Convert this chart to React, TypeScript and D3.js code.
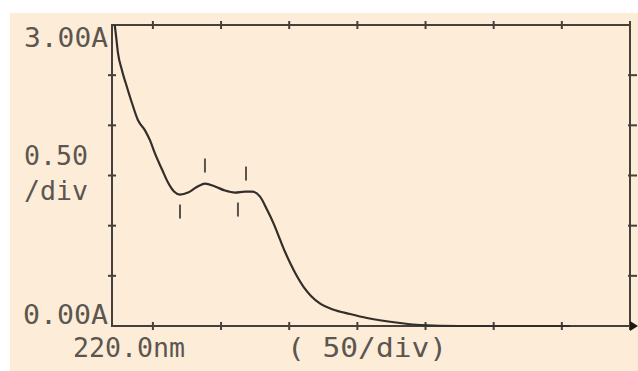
import * as d3 from "d3";

// wavelength (nm) and absorbance (A)
const wavelength = [222, 222.9, 224.4, 227.3, 231, 234.7, 239.1, 244.2, 247.9, 251.5, 256.7, 261.1, 265.5, 269.9, 275.8, 281.6, 288.2, 295.6, 302.9, 310.2, 317.6, 322.7, 328.6, 333.7, 338.9, 343.3, 346.9, 350.6, 355.5, 360.5, 366, 373, 382.1, 394.6, 407.1, 431.3, 446, 475, 556];
const absorbance = [3.0, 2.9, 2.72, 2.55, 2.38, 2.22, 2.05, 1.95, 1.85, 1.72, 1.56, 1.43, 1.34, 1.31, 1.33, 1.38, 1.42, 1.39, 1.35, 1.33, 1.34, 1.34, 1.29, 1.16, 1.01, 0.86, 0.74, 0.63, 0.5, 0.39, 0.3, 0.22, 0.165, 0.12, 0.08, 0.03, 0.01, 0, 0];

// peak / valley markers
const markerNm = [269.9, 288.2, 312.4, 318.3];
const markerA = [1.31, 1.42, 1.33, 1.34];
const markerSide = ["valley", "peak", "valley", "peak"];

const xTicks = [250, 300, 350, 400, 450, 500, 550, 600];
const yTicks = [0.5, 1.0, 1.5, 2.0, 2.5];

const W = 638;
const H = 371;
const ink = "#46403b";
const textInk = "#5b5650";

export default function App() {
  const x = d3.scaleLinear().domain([220, 600]).range([112, 630]);
  const y = d3.scaleLinear().domain([0, 3]).range([326, 25]);

  const pts: [number, number][] = wavelength.map((w, i) => [w, absorbance[i]]);
  const line = d3
    .line<[number, number]>()
    .x((d) => x(d[0]))
    .y((d) => y(d[1]))
    .curve(d3.curveMonotoneX);

  const x0 = x(220), x1 = x(600), yTop = y(3), yBot = y(0);
  const font = "'DejaVu Sans Mono', 'Liberation Mono', monospace";

  return (
    <svg
      width={W}
      height={H}
      style={{ position: "absolute", left: 0, top: 0 }}
      fontFamily={font}
    >
      <rect x={0} y={0} width={W} height={H} fill="#ffffff" />
      <rect x={10} y={13} width={W - 10} height={H - 13} fill="#fdecd8" />

      {/* frame */}
      <rect x={x0} y={yTop} width={x1 - x0} height={yBot - yTop} fill="none" stroke={ink} strokeWidth={2} />

      {/* x ticks top and bottom */}
      {xTicks.map((t) => (
        <g key={"xt" + t}>
          <line x1={x(t)} x2={x(t)} y1={yTop - 4} y2={yTop + 4} stroke={ink} strokeWidth={2} />
          <line x1={x(t)} x2={x(t)} y1={yBot - 4} y2={yBot + 4} stroke={ink} strokeWidth={2} />
        </g>
      ))}

      {/* y ticks left and right */}
      {yTicks.map((t) => (
        <g key={"yt" + t}>
          <line x1={x0 - 4} x2={x0 + 4} y1={y(t)} y2={y(t)} stroke={ink} strokeWidth={2} />
          <line x1={x1 - 2} x2={x1 + 7} y1={y(t)} y2={y(t)} stroke={ink} strokeWidth={2} />
        </g>
      ))}

      {/* arrow at bottom right */}
      <path d={`M${x1},${yBot - 5} L${x1 + 8},${yBot} L${x1},${yBot + 5} Z`} fill="#1e1a18" />

      {/* spectrum */}
      <path d={line(pts) ?? ""} fill="none" stroke="#332e2a" strokeWidth={2.2} strokeLinejoin="round" />

      {/* peak / valley marks */}
      {markerNm.map((m, i) => {
        const cy = y(markerA[i]);
        const up = markerSide[i] === "peak";
        const a = up ? cy - 11 : cy + 10;
        const b = up ? cy - 25 : cy + 24;
        return <line key={"mk" + i} x1={x(m)} x2={x(m)} y1={a} y2={b} stroke="#5a544e" strokeWidth={2} />;
      })}

      {/* labels */}
      <g fill={textInk} fontSize={27}>
        <text x={24} y={47} textLength={84} lengthAdjust="spacingAndGlyphs">3.00A</text>
        <text x={24} y={165} textLength={64} lengthAdjust="spacingAndGlyphs">0.50</text>
        <text x={24} y={200} textLength={64} lengthAdjust="spacingAndGlyphs">/div</text>
        <text x={23} y={324} textLength={85} lengthAdjust="spacingAndGlyphs">0.00A</text>
        <text x={73} y={357} textLength={112} lengthAdjust="spacingAndGlyphs">220.0nm</text>
        <text x={287} y={357} textLength={160} lengthAdjust="spacingAndGlyphs">( 50/div)</text>
      </g>
    </svg>
  );
}
